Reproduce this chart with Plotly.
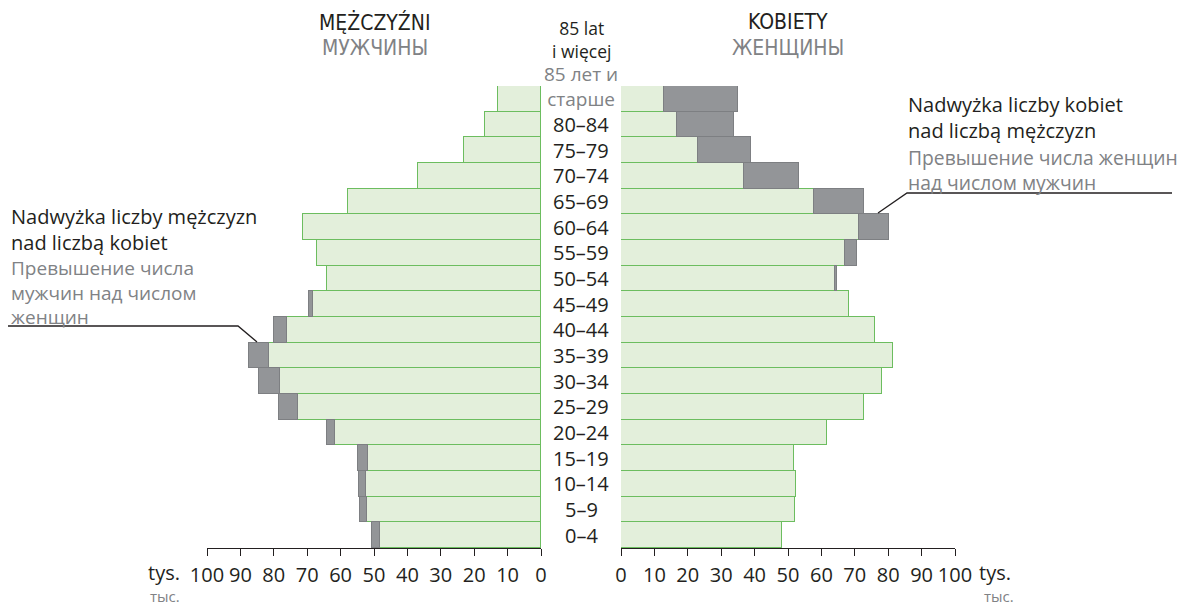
import plotly.graph_objects as go

# ---------------- data ----------------
ages = ["0–4", "5–9", "10–14", "15–19", "20–24", "25–29", "30–34", "35–39", "40–44",
        "45–49", "50–54", "55–59", "60–64", "65–69", "70–74", "75–79", "80–84", "85+"]
men = [50.5, 54.2, 54.5, 54.7, 64.1, 78.3, 84.3, 87.3, 79.9,
       69.4, 64.1, 67.1, 71.2, 57.8, 36.9, 23.0, 16.8, 12.8]
women = [48.2, 52.0, 52.4, 51.8, 61.8, 72.8, 78.2, 81.5, 76.0,
         68.4, 64.7, 70.8, 80.1, 72.8, 53.4, 38.8, 33.8, 35.1]
age_labels = ["0–4", "5–9", "10–14", "15–19", "20–24", "25–29", "30–34", "35–39", "40–44",
              "45–49", "50–54", "55–59", "60–64", "65–69", "70–74", "75–79", "80–84"]
tick_vals = [0, 10, 20, 30, 40, 50, 60, 70, 80, 90, 100]

common = [min(m, w) for m, w in zip(men, women)]
men_ex = [(m - w) if m > w else None for m, w in zip(men, women)]
women_ex = [(w - m) if w > m else None for m, w in zip(men, women)]

# ---------------- style ----------------
OFF = 8                      # page body margin
W, H = 1187 - OFF, 606 - OFF
T = 86 - OFF
B = H - (548 - OFF)
PH = H - T - B
FONT = "Open Sans"
BLACK = "#231f20"
GREY_T = "#808285"
G_FILL = "#e3efdb"
G_LINE = "#6cbd5f"
D_FILL = "#939598"
D_LINE = "#7d7f82"


def px(x):
    return (x - OFF) / W


def py(y):
    return (H - B - (y - OFF)) / PH


fig = go.Figure()
green = dict(color=G_FILL, line=dict(color=G_LINE, width=1.2))
grey = dict(color=D_FILL, line=dict(color=D_LINE, width=1.2))
fig.add_bar(y=ages, x=common, orientation="h", marker=green, xaxis="x", yaxis="y",
            showlegend=False, hoverinfo="skip")
fig.add_bar(y=ages, x=men_ex, orientation="h", marker=grey, xaxis="x", yaxis="y",
            showlegend=False, hoverinfo="skip")
fig.add_bar(y=ages, x=common, orientation="h", marker=green, xaxis="x2", yaxis="y2",
            showlegend=False, hoverinfo="skip")
fig.add_bar(y=ages, x=women_ex, orientation="h", marker=grey, xaxis="x2", yaxis="y2",
            showlegend=False, hoverinfo="skip")

axis_common = dict(
    tickvals=tick_vals, ticks="outside", ticklen=7, tickwidth=1.2, tickcolor=BLACK,
    showline=True, linecolor=BLACK, linewidth=1.2, showgrid=False, zeroline=False,
    tickfont=dict(family=FONT, size=20, color=BLACK), ticklabelstandoff=2,
    fixedrange=True, automargin=False,
)
yaxis_common = dict(domain=[0, 1], range=[-0.5, 17.5], showticklabels=False, showgrid=False,
                    zeroline=False, type="category", categoryorder="array",
                    categoryarray=ages, automargin=False, fixedrange=True)
fig.update_layout(
    width=W, height=H, margin=dict(l=0, r=0, t=T, b=B, autoexpand=False),
    paper_bgcolor="white", plot_bgcolor="white",
    barmode="stack", bargap=0,
    xaxis=dict(domain=[px(207), px(541)], range=[100, 0], anchor="y", **axis_common),
    xaxis2=dict(domain=[px(621), px(955)], range=[0, 100], anchor="y2", **axis_common),
    yaxis=dict(anchor="x", **yaxis_common),
    yaxis2=dict(anchor="x2", **yaxis_common),
    font=dict(family=FONT, color=BLACK),
)

ann = []
# age labels in centre
for lab in age_labels:
    ann.append(dict(x=px(581), xref="paper", y=lab, yref="y", text=lab, showarrow=False,
                    xanchor="center", yanchor="middle",
                    font=dict(family=FONT, size=20, color=BLACK)))


def txt(x, y, text, color=BLACK, size=20, xanchor="left", family=FONT):
    ann.append(dict(x=px(x), y=py(y), xref="paper", yref="paper", text=text, showarrow=False,
                    xanchor=xanchor, yanchor="middle", align=xanchor if xanchor != "center" else "center",
                    font=dict(family=family, size=size, color=color)))


HEAD = "DejaVu Sans Condensed, Open Sans"
txt(375, 22, "MĘŻCZYŹNI", BLACK, 21, "center", HEAD)
txt(375, 48, "МУЖЧИНЫ", GREY_T, 21, "center", HEAD)
txt(788, 22, "KOBIETY", BLACK, 21, "center", HEAD)
txt(788, 48, "ЖЕНЩИНЫ", GREY_T, 21, "center", HEAD)
txt(581, 39, "85 lat<br>i więcej", BLACK, 17.5, "center")
txt(581, 87, "85 лет и<br>старше", GREY_T, 19, "center")

txt(9, 229, "Nadwyżka liczby mężczyzn<br>nad liczbą kobiet", BLACK, 20)
txt(9, 292, "Превышение числа<br>мужчин над числом<br>женщин", GREY_T, 19)
txt(906, 117, "Nadwyżka liczby kobiet<br>nad liczbą mężczyzn", BLACK, 20)
txt(906, 170, "Превышение числа женщин<br>над числом мужчин", GREY_T, 19.3)

txt(182, 572, "tys.", BLACK, 20, "right")
txt(182, 596, "тыс.", GREY_T, 15, "right")
txt(977, 572, "tys.", BLACK, 20, "left")
txt(1016, 596, "тыс.", GREY_T, 15, "right")

fig.update_layout(annotations=ann)

# pointer lines
fig.add_shape(type="path", xref="paper", yref="paper",
              path=f"M {px(7)} {py(326)} L {px(238)} {py(326)} L {px(257)} {py(342)}",
              line=dict(color=BLACK, width=1.3))
fig.add_shape(type="path", xref="paper", yref="paper",
              path=f"M {px(1172)} {py(193)} L {px(907)} {py(193)} L {px(878)} {py(213)}",
              line=dict(color=BLACK, width=1.3))

fig.write_html("out.html")
